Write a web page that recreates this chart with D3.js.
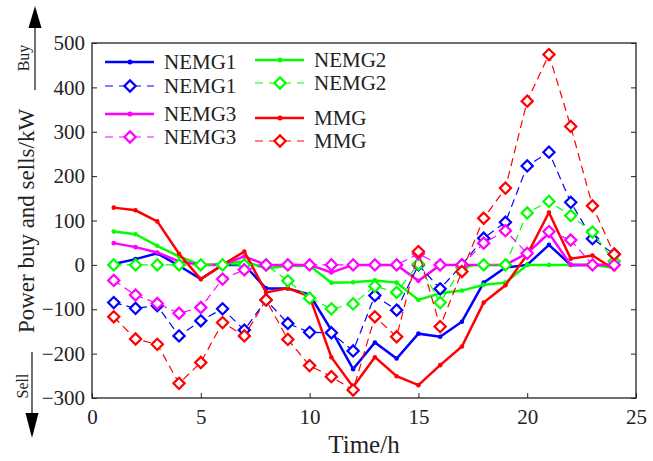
<!DOCTYPE html>
<html>
<head>
<meta charset="utf-8">
<script src="https://cdn.jsdelivr.net/npm/d3@7"></script>
<style>
  body { margin: 0; background: #fff; }
  svg text { font-family: "Liberation Serif", "Times New Roman", serif; fill: #222; }
</style>
</head>
<body>
<svg id="chart"></svg>
<script>
// hours 1..24
const hours = d3.range(1, 25);

// solid lines
const nemg1Solid = [2, 13, 26, -2, -32, 0, 0, -53, -53, -67, -147, -235, -175, -211, -155, -162, -128, -40, -6, 0, 45, 0, 0, 0];
const nemg2Solid = [75, 69, 43, 19, 0, 2, 8, -8, -2, -2, -40, -39, -35, -40, -79, -64, -58, -45, -40, 0, 0, 0, 0, -7];
const nemg3Solid = [49, 40, 28, 8, 0, 0, 19, 0, 0, 0, -17, 0, 0, 0, -36, 0, 0, 0, 0, 26, 71, 0, 0, 0];
const mmgSolid   = [129, 123, 98, 25, -32, 0, 30, -62, -53, -71, -208, -275, -208, -251, -271, -226, -184, -85, -46, 23, 118, 14, 21, -10];

// dashed lines with diamonds
const nemg1Dash = [-85, -98, -92, -160, -126, -99, -147, -79, -132, -152, -153, -194, -69, -102, 0, -54, 0, 60, 96, 223, 254, 141, 59, 24];
const nemg2Dash = [0, 0, 0, 0, 0, 0, 0, 0, -36, -75, -99, -88, -48, -62, 2, -85, -6, 0, 0, 117, 143, 111, 74, 8];
const nemg3Dash = [-35, -68, -87, -109, -96, -32, -11, 0, 0, 0, 0, 0, 0, 0, 25, 0, 0, 49, 77, 26, 75, 56, 0, 0];
const mmgDash   = [-117, -167, -179, -267, -220, -130, -160, -79, -168, -227, -252, -282, -117, -162, 30, -139, -15, 105, 173, 369, 474, 312, 133, 24];

const xTicks = [0, 5, 10, 15, 20, 25];
const yTicks = [-300, -200, -100, 0, 100, 200, 300, 400, 500];

const series = [
  { name: 'NEMG1', color: '#0000ff', values: nemg1Solid, dashed: false },
  { name: 'NEMG2', color: '#00ff00', values: nemg2Solid, dashed: false },
  { name: 'NEMG3', color: '#ff00ff', values: nemg3Solid, dashed: false },
  { name: 'MMG',   color: '#ff0000', values: mmgSolid,   dashed: false },
  { name: 'NEMG1', color: '#0000ff', values: nemg1Dash,  dashed: true },
  { name: 'NEMG2', color: '#00ff00', values: nemg2Dash,  dashed: true },
  { name: 'NEMG3', color: '#ff00ff', values: nemg3Dash,  dashed: true },
  { name: 'MMG',   color: '#ff0000', values: mmgDash,    dashed: true }
];

const width = 653, height = 461;
const margin = { top: 43, right: 17, bottom: 63, left: 92 };

const svg = d3.select('#chart').attr('width', width).attr('height', height);

const x = d3.scaleLinear().domain([0, 25]).range([margin.left, width - margin.right]);
const y = d3.scaleLinear().domain([-300, 500]).range([height - margin.bottom, margin.top]);

const diamond = d3.symbol().type(d3.symbolDiamond2).size(80);

// lines
const line = d3.line().x((d, i) => x(hours[i])).y(d => y(d));

series.forEach(s => {
  const g = svg.append('g');
  g.append('path')
    .datum(s.values)
    .attr('d', line)
    .attr('fill', 'none')
    .attr('stroke', s.color)
    .attr('stroke-width', s.dashed ? 1.2 : 2.5)
    .attr('stroke-dasharray', s.dashed ? '8,5' : null);

  if (s.dashed) {
    g.selectAll('path.mk')
      .data(s.values)
      .enter()
      .append('path')
      .attr('class', 'mk')
      .attr('d', diamond)
      .attr('transform', (d, i) => `translate(${x(hours[i])},${y(d)})`)
      .attr('fill', '#fff')
      .attr('stroke', s.color)
      .attr('stroke-width', 2.2);
  } else {
    g.selectAll('circle')
      .data(s.values)
      .enter()
      .append('circle')
      .attr('cx', (d, i) => x(hours[i]))
      .attr('cy', d => y(d))
      .attr('r', 2.3)
      .attr('fill', s.color);
  }
});

// frame
svg.append('rect')
  .attr('x', x(0)).attr('y', y(500))
  .attr('width', x(25) - x(0)).attr('height', y(-300) - y(500))
  .attr('fill', 'none').attr('stroke', '#222').attr('stroke-width', 1.3);

// X axis (ticks inward)
const xAxis = svg.append('g')
  .attr('transform', `translate(0,${y(-300)})`)
  .call(d3.axisBottom(x).tickValues(xTicks).tickSizeInner(-5).tickSizeOuter(0).tickPadding(11));
xAxis.select('.domain').remove();
xAxis.selectAll('line').attr('stroke', '#222');
xAxis.selectAll('text').style('font-size', '21px').style('font-family', '"Liberation Serif", serif').attr('fill', '#222');

// Y axis (ticks inward)
const yAxis = svg.append('g')
  .attr('transform', `translate(${x(0)},0)`)
  .call(d3.axisLeft(y).tickValues(yTicks).tickSizeInner(-5).tickSizeOuter(0).tickPadding(7));
yAxis.select('.domain').remove();
yAxis.selectAll('line').attr('stroke', '#222');
yAxis.selectAll('text').style('font-size', '21px').style('font-family', '"Liberation Serif", serif').attr('fill', '#222');

// right ticks
const yRight = svg.append('g')
  .attr('transform', `translate(${x(25)},0)`)
  .call(d3.axisRight(y).tickValues(yTicks).tickSizeInner(-5).tickSizeOuter(0).tickFormat(''));
yRight.select('.domain').remove();
yRight.selectAll('line').attr('stroke', '#222');

// x label
svg.append('text')
  .attr('x', (x(0) + x(25)) / 2)
  .attr('y', 453)
  .attr('text-anchor', 'middle')
  .style('font-size', '25px')
  .text('Time/h');

// y label with buy/sell arrows
svg.append('text')
  .attr('transform', 'translate(34,221) rotate(-90)')
  .attr('text-anchor', 'middle')
  .style('font-size', '23px')
  .text('Power buy and sells/kW');

svg.append('text')
  .attr('transform', 'translate(29,58) rotate(-90)')
  .attr('text-anchor', 'middle')
  .style('font-size', '16px')
  .text('Buy');

svg.append('text')
  .attr('transform', 'translate(28,386) rotate(-90)')
  .attr('text-anchor', 'middle')
  .style('font-size', '16px')
  .text('Sell');

svg.append('line')
  .attr('x1', 35).attr('x2', 35).attr('y1', 28).attr('y2', 90)
  .attr('stroke', '#111').attr('stroke-width', 1.2);
svg.append('path')
  .attr('d', 'M35,6 L28.5,28 L41.5,28 Z')
  .attr('fill', '#000');

svg.append('line')
  .attr('x1', 32).attr('x2', 32).attr('y1', 352).attr('y2', 413)
  .attr('stroke', '#111').attr('stroke-width', 1.2);
svg.append('path')
  .attr('d', 'M32,438 L25.5,413 L38.5,413 Z')
  .attr('fill', '#000');

// legend
const legendItems = [
  { s: series[0], lx: 105, ly: 62 },
  { s: series[4], lx: 105, ly: 86 },
  { s: series[2], lx: 105, ly: 114 },
  { s: series[6], lx: 105, ly: 137 },
  { s: series[1], lx: 255, ly: 60 },
  { s: series[5], lx: 255, ly: 83 },
  { s: series[3], lx: 255, ly: 118 },
  { s: series[7], lx: 255, ly: 141 }
];

legendItems.forEach(item => {
  const g = svg.append('g');
  const s = item.s;
  g.append('line')
    .attr('x1', item.lx).attr('x2', item.lx + 49)
    .attr('y1', item.ly).attr('y2', item.ly)
    .attr('stroke', s.color)
    .attr('stroke-width', s.dashed ? 1.2 : 2.5)
    .attr('stroke-dasharray', s.dashed ? '8,6' : null);
  if (s.dashed) {
    g.append('path')
      .attr('d', diamond)
      .attr('transform', `translate(${item.lx + 25},${item.ly})`)
      .attr('fill', '#fff').attr('stroke', s.color).attr('stroke-width', 2.2);
  } else {
    g.append('circle')
      .attr('cx', item.lx + 25).attr('cy', item.ly).attr('r', 2.5)
      .attr('fill', s.color);
  }
  g.append('text')
    .attr('x', item.lx + 59).attr('y', item.ly + 7)
    .style('font-size', '21px')
    .text(s.name);
});
</script>
</body>
</html>
